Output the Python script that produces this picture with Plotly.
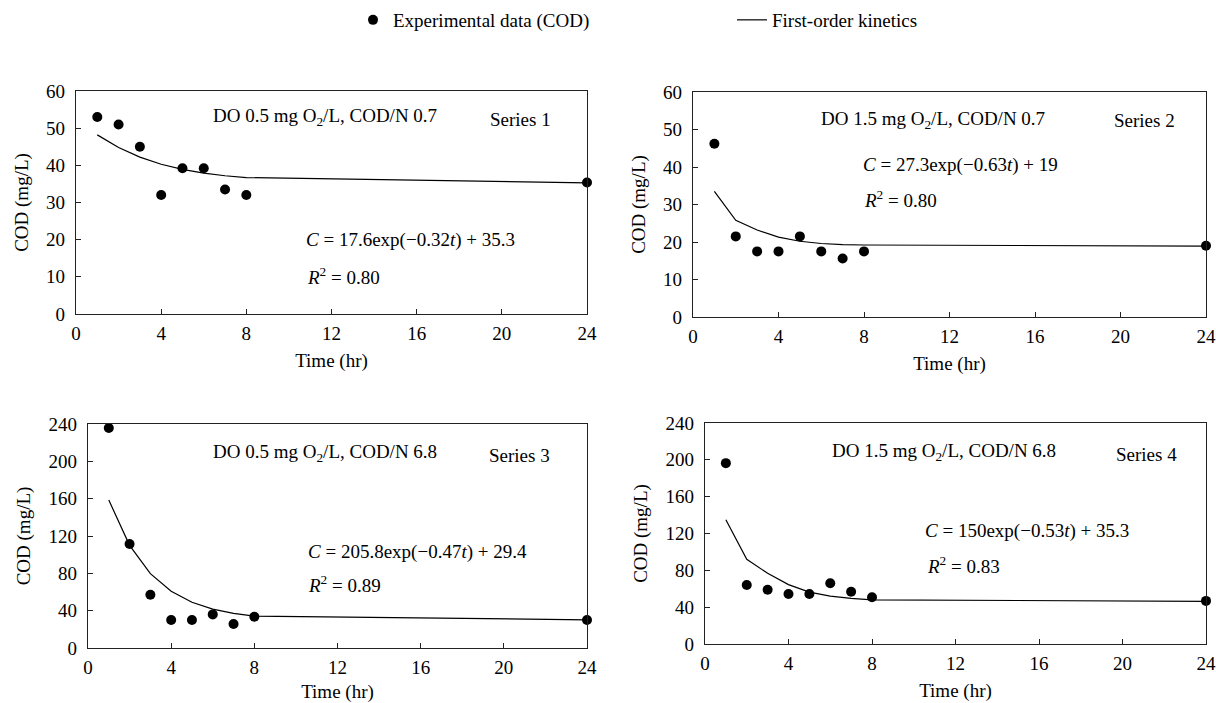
import plotly.graph_objects as go

# ---- data ----
time_hr = [1, 2, 3, 4, 5, 6, 7, 8, 24]

s1_obs = [53.0, 51.0, 45.0, 32.0, 39.2, 39.2, 33.5, 32.0, 35.4]
s1_fit = [48.2, 44.8, 42.2, 40.3, 38.9, 37.9, 37.2, 36.7, 35.3]

s2_obs = [46.2, 21.5, 17.5, 17.5, 21.5, 17.5, 15.6, 17.5, 19.0]
s2_fit = [33.5, 25.8, 23.2, 21.3, 20.2, 19.6, 19.3, 19.2, 18.9]

s3_obs = [235.7, 111.5, 57.0, 30.0, 30.0, 36.0, 25.7, 33.4, 30.0]
s3_fit = [158.5, 110.0, 79.6, 60.8, 49.0, 41.7, 37.1, 34.2, 30.2]

s4_obs = [196.4, 64.0, 59.0, 54.3, 54.3, 66.0, 56.8, 50.7, 46.8]
s4_fit = [135.0, 92.0, 76.8, 64.5, 56.4, 52.0, 49.6, 48.0, 46.3]

conditions = ["DO 0.5 mg O<sub>2</sub>/L, COD/N 0.7",
              "DO 1.5 mg O<sub>2</sub>/L, COD/N 0.7",
              "DO 0.5 mg O<sub>2</sub>/L, COD/N 6.8",
              "DO 1.5 mg O<sub>2</sub>/L, COD/N 6.8"]
series_labels = ["Series 1", "Series 2", "Series 3", "Series 4"]
equations = ["<i>C</i> = 17.6exp(\u22120.32<i>t</i>) + 35.3",
             "<i>C</i> = 27.3exp(\u22120.63<i>t</i>) + 19",
             "<i>C</i> = 205.8exp(\u22120.47<i>t</i>) + 29.4",
             "<i>C</i> = 150exp(\u22120.53<i>t</i>) + 35.3"]
r2_labels = ["<i>R</i><sup>2</sup> = 0.80", "<i>R</i><sup>2</sup> = 0.80",
             "<i>R</i><sup>2</sup> = 0.89", "<i>R</i><sup>2</sup> = 0.83"]

y_ranges = [[0, 60], [0, 60], [0, 240], [0, 240]]
y_dticks = [10, 10, 40, 40]
x_ticks = [0, 4, 8, 12, 16, 20, 24]

# ---- layout geometry ----
W, H = 1216, 703
FONT = "Liberation Serif, Times New Roman, serif"
FS = 19

# panel pixel boxes: (left, right, top, bottom)
boxes = [(76, 587, 91, 314), (693, 1206, 92, 317),
         (88, 587, 424, 648), (705, 1206, 423, 644)]

# annotation positions in data coords (x, y)
cond_pos = [(6.35, 52.9), (5.88, 52.4), (5.9, 209.4), (5.98, 208.9)]
series_pos = [(19.35, 52.4), (19.6, 52.5), (19.2, 206.5), (19.6, 206.0)]
eq_pos = [(10.7, 19.8), (7.88, 40.5), (10.5, 103.0), (10.45, 123.2)]
r2_pos = [(10.75, 10.2), (7.9, 31.4), (10.5, 68.6), (10.55, 85.7)]

obs_all = [s1_obs, s2_obs, s3_obs, s4_obs]
fit_all = [s1_fit, s2_fit, s3_fit, s4_fit]

fig = go.Figure()
annotations = []

for i in range(4):
    k = "" if i == 0 else str(i + 1)
    xa, ya = "x" + k, "y" + k
    fig.add_trace(go.Scatter(
        x=time_hr, y=fit_all[i], mode="lines", xaxis=xa, yaxis=ya,
        line=dict(color="black", width=1.2),
        name="First-order kinetics", showlegend=(i == 0), legend="legend2"))
    fig.add_trace(go.Scatter(
        x=time_hr, y=obs_all[i], mode="markers", xaxis=xa, yaxis=ya,
        marker=dict(color="black", size=10),
        name="Experimental data (COD)", showlegend=(i == 0), legend="legend",
        cliponaxis=False))

    l, r, t, b = boxes[i]
    axis_common = dict(showline=True, linecolor="#222", linewidth=1.2, mirror=True,
                       ticks="inside", ticklen=5, tickwidth=1, tickcolor="#222",
                       showgrid=False, zeroline=False, automargin=False,
                       tickfont=dict(family=FONT, size=FS, color="black"))
    fig.update_layout({
        "xaxis" + k: dict(domain=[l / W, r / W], anchor=ya, range=[0, 24],
                          tickvals=x_ticks, ticklabelstandoff=2,
                          title=dict(text="Time (hr)", font=dict(family=FONT, size=FS, color="black"),
                                     standoff=10),
                          **axis_common),
        "yaxis" + k: dict(domain=[1 - b / H, 1 - t / H], anchor=xa, range=y_ranges[i],
                          dtick=y_dticks[i], ticklabelstandoff=6,
                          title=dict(text="COD (mg/L)", font=dict(family=FONT, size=FS, color="black"),
                                     standoff=12),
                          **axis_common),
    })

    for txt, pos in ((conditions[i], cond_pos[i]), (series_labels[i], series_pos[i]),
                     (equations[i], eq_pos[i]), (r2_labels[i], r2_pos[i])):
        annotations.append(dict(text=txt, x=pos[0], y=pos[1], xref=xa, yref=ya,
                                xanchor="left", yanchor="middle", showarrow=False,
                                font=dict(family=FONT, size=FS, color="black")))

fig.update_layout(
    width=W, height=H,
    margin=dict(l=0, r=0, t=0, b=0, autoexpand=False),
    paper_bgcolor="white", plot_bgcolor="white",
    font=dict(family=FONT, size=FS, color="black"),
    annotations=annotations,
    legend=dict(orientation="h", x=353 / W, y=1 - 1 / H, xanchor="left", yanchor="top",
                font=dict(family=FONT, size=FS, color="black"), bgcolor="rgba(0,0,0,0)"),
    legend2=dict(orientation="h", x=732 / W, y=1 - 1 / H, xanchor="left", yanchor="top",
                 font=dict(family=FONT, size=FS, color="black"), bgcolor="rgba(0,0,0,0)"),
)

fig.write_html(
    "out.html",
    config={"displayModeBar": False},
    post_script="document.body.style.margin='0';document.body.style.overflow='hidden';",
)
